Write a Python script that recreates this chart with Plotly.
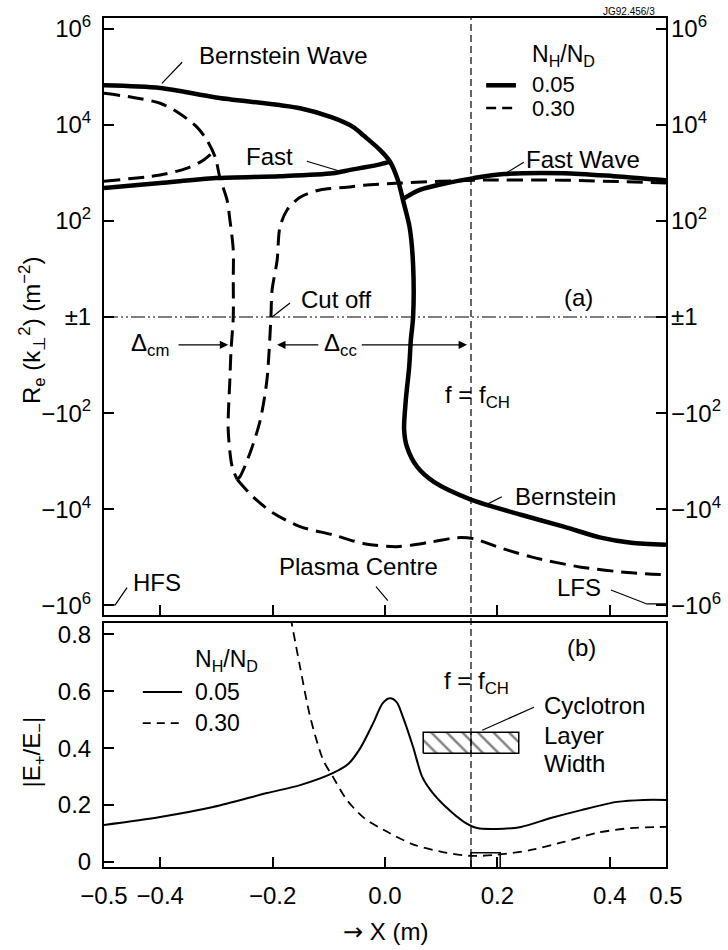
import numpy as np
import plotly.graph_objects as go

# ---------------- panel (a): Re(k_perp^2) in m^-2 versus X in m ----------------
# N_H/N_D = 0.05 : Bernstein branch (upper, turning down through the resonance)
bern05_x = [-0.5, -0.4, -0.301, -0.151, -0.093, -0.057, -0.037, -0.009, 0.009, 0.023,
            0.032, 0.044, 0.050, 0.050, 0.046, 0.043, 0.037, 0.034, 0.039, 0.057,
            0.087, 0.153, 0.242, 0.318, 0.384, 0.438, 0.5]
bern05_v = [6.6e4, 5.8e4, 3.7e4, 2.2e4, 1.4e4, 9.0e3, 5.8e3, 3.0e3, 1.7e3, 700,
            270, 71, 12, 1, -3, -11, -54, -220, -500, -1.3e3,
            -2.7e3, -6.3e3, -1.3e4, -2.3e4, -3.9e4, -5.0e4, -5.5e4]
# N_H/N_D = 0.05 : fast wave, high-field side
fast05_l_x = [-0.5, -0.4, -0.301, -0.187, -0.093, -0.062, -0.036, -0.009, 0.009]
fast05_l_v = [480, 610, 775, 850, 980, 1.15e3, 1.3e3, 1.5e3, 1.7e3]
# N_H/N_D = 0.05 : fast wave, low-field side
fast05_r_x = [0.033, 0.062, 0.110, 0.158, 0.212, 0.318, 0.407, 0.5]
fast05_r_v = [290, 440, 610, 775, 940, 980, 850, 700]

# N_H/N_D = 0.30 : upper branch down to the confluence
bern30_x = [-0.5, -0.448, -0.4, -0.365, -0.335, -0.317, -0.302, -0.294, -0.281, -0.276,
            -0.270, -0.270, -0.270, -0.274, -0.276, -0.279, -0.272, -0.263]
bern30_v = [4.5e4, 3.7e4, 2.8e4, 1.7e4, 9.0e3, 4.8e3, 2.1e3, 810, 270, 105,
            25, 6, 1, -5, -20, -220, -1.3e3, -2.4e3]
# N_H/N_D = 0.30 : fast wave, high-field side
fast30_l_x = [-0.5, -0.4, -0.352, -0.324, -0.306]
fast30_l_v = [670, 900, 1.25e3, 1.8e3, 2.7e3]
# N_H/N_D = 0.30 : from the confluence up through the cut-off to the fast wave
cut30_x = [-0.263, -0.258, -0.240, -0.222, -0.210, -0.203, -0.201, -0.192, -0.187, -0.174,
           -0.151, -0.116, -0.068, -0.037, 0.027, 0.158, 0.318, 0.5]
cut30_v = [-2.4e3, -2.1e3, -670, -140, -20, -1, 3.6, 15, 74, 170,
           310, 440, 500, 550, 610, 700, 700, 610]
# N_H/N_D = 0.30 : from the confluence towards the low-field side
low30_x = [-0.263, -0.235, -0.199, -0.151, -0.093, -0.037, 0.021, 0.082, 0.128, 0.158,
           0.199, 0.260, 0.349, 0.438, 0.5]
low30_v = [-2.4e3, -5.5e3, -1.2e4, -2.3e4, -3.4e4, -5.2e4, -6.0e4, -4.8e4, -3.9e4, -4.1e4,
           -6.0e4, -9.8e4, -1.6e5, -2.1e5, -2.3e5]

# ---------------- panel (b): |E+/E-| ----------------
pol05_x = [-0.5, -0.4, -0.306, -0.21, -0.151, -0.093, -0.065, -0.044, -0.021, -0.004,
           0.009, 0.021, 0.032, 0.050, 0.066, 0.082, 0.110, 0.141, 0.164, 0.199,
           0.242, 0.295, 0.349, 0.413, 0.461, 0.5]
pol05_v = [0.130, 0.158, 0.193, 0.242, 0.270, 0.312, 0.345, 0.400, 0.488, 0.558,
           0.575, 0.561, 0.509, 0.404, 0.300, 0.250, 0.190, 0.140, 0.119, 0.116,
           0.123, 0.154, 0.182, 0.211, 0.218, 0.218]
pol30_x = [-0.168, -0.151, -0.133, -0.110, -0.093, -0.068, -0.037, -0.002, 0.052, 0.110,
           0.153, 0.199, 0.260, 0.318, 0.377, 0.438, 0.5]
pol30_v = [0.86, 0.684, 0.509, 0.358, 0.300, 0.218, 0.154, 0.112, 0.060, 0.032,
           0.021, 0.025, 0.042, 0.070, 0.102, 0.119, 0.123]

# cyclotron resonance position and layer width
x_res = 0.153
layer_x = [0.068, 0.238]
layer_v = [0.382, 0.456]

# axis ticks
x_tickvals = [-0.5, -0.4, -0.2, 0.0, 0.2, 0.4, 0.5]
x_ticktext = ["\u22120.5", "\u22120.4", "\u22120.2", "0.0", "0.2", "0.4", "0.5"]
ya_tickvals = [6, 4, 2, 0, -2, -4, -6]
ya_ticktext = ["10<sup>6</sup>", "10<sup>4</sup>", "10<sup>2</sup>", "\u00b11",
               "\u221210<sup>2</sup>", "\u221210<sup>4</sup>", "\u221210<sup>6</sup>"]
yb_tickvals = [0, 0.2, 0.4, 0.6, 0.8]
yb_ticktext = ["0", "0.2", "0.4", "0.6", "0.8"]


def slog(v):
    """Signed decade scale: +-1 maps to 0, +-10^n maps to +-n."""
    v = np.asarray(v, dtype=float)
    return np.sign(v) * np.log10(np.maximum(np.abs(v), 1.0))


FONT = "Liberation Sans, Arial, Helvetica, sans-serif"
BLACK = "black"
thick = dict(color=BLACK, width=4.5, shape="spline", smoothing=0.8)
dashA = dict(color=BLACK, width=3, dash="16px,8px", shape="spline", smoothing=0.8)

fig = go.Figure()


def add(x, y, line, xa="x", ya="y"):
    fig.add_trace(go.Scatter(x=x, y=y, mode="lines", line=line, xaxis=xa, yaxis=ya,
                             showlegend=False, hoverinfo="skip"))


# panel (a)
add(bern05_x, slog(bern05_v), thick)
add(fast05_l_x, slog(fast05_l_v), thick)
add(fast05_r_x, slog(fast05_r_v), thick)
add(bern30_x, slog(bern30_v), dashA)
add(fast30_l_x, slog(fast30_l_v), dashA)
add(cut30_x, slog(cut30_v), dashA)
add(low30_x, slog(low30_v), dashA)
# the right-hand scale of panel (a) needs a trace of its own to be drawn
fig.add_trace(go.Scatter(x=[0.0], y=[0.0], mode="markers", marker=dict(opacity=0),
                         xaxis="x", yaxis="y3", showlegend=False, hoverinfo="skip"))

# panel (b)
add(pol05_x, pol05_v, dict(color=BLACK, width=2, shape="spline", smoothing=0.8), "x2", "y2")
add(pol30_x, pol30_v, dict(color=BLACK, width=1.8, dash="9px,6px", shape="spline",
                           smoothing=0.8), "x2", "y2")

# hatched cyclotron layer
fig.add_trace(go.Scatter(
    x=[layer_x[0], layer_x[1], layer_x[1], layer_x[0], layer_x[0]],
    y=[layer_v[0], layer_v[0], layer_v[1], layer_v[1], layer_v[0]],
    mode="lines", fill="toself", line=dict(color=BLACK, width=1.5),
    fillcolor="white",
    fillpattern=dict(shape="\\", fgcolor=BLACK, bgcolor="white", size=11, solidity=0.22),
    xaxis="x2", yaxis="y2", showlegend=False, hoverinfo="skip"))

shapes = []


def seg(x0, y0, x1, y1, xr="x", yr="y", width=1.2, dash="solid"):
    shapes.append(dict(type="line", x0=x0, y0=y0, x1=x1, y1=y1, xref=xr, yref=yr,
                       line=dict(color=BLACK, width=width, dash=dash)))


# resonance line through both panels
shapes.append(dict(type="line", x0=x_res, x1=x_res, y0=0, y1=1, xref="x", yref="paper",
                   line=dict(color=BLACK, width=1.2, dash="7px,4px")))
# divider inside the layer box
seg(x_res, layer_v[0], x_res, layer_v[1], "x2", "y2", 1.2)
# +-1 reference line
seg(-0.5, 0, 0.5, 0, width=1.2, dash="14px,3px,2px,3px,2px,3px")

# leader lines, panel (a)
seg(-0.361, 5.30, -0.397, 4.86)              # Bernstein Wave
seg(-0.139, 3.24, -0.071, 3.00)              # Fast
seg(0.247, 3.22, 0.212, 2.97)                # Fast Wave
seg(-0.169, 0.29, -0.201, 0.0)               # Cut off
seg(0.208, -3.74, 0.176, -3.93)              # Bernstein
seg(-0.016, -5.61, 0.005, -5.90)             # Plasma Centre
shapes.append(dict(type="path", xref="x", yref="y",
                   path="M -0.459,-5.63 L -0.480,-5.99 L -0.5,-5.99",
                   line=dict(color=BLACK, width=1.2)))   # HFS
shapes.append(dict(type="path", xref="x", yref="y",
                   path="M 0.402,-5.68 L 0.466,-5.97 L 0.5,-5.97",
                   line=dict(color=BLACK, width=1.2)))   # LFS
# panel (a) key samples
seg(0.180, 4.82, 0.233, 4.82, width=4.5)
seg(0.180, 4.35, 0.233, 4.35, width=2.5, dash="10px,6px")

# panel (b) leader + key samples
seg(0.265, 0.544, 0.173, 0.463, "x2", "y2")
seg(-0.431, 0.597, -0.361, 0.597, "x2", "y2", width=2)
seg(-0.431, 0.488, -0.361, 0.488, "x2", "y2", width=1.8, dash="8px,6px")
# bracket at the minimum of the 0.30 curve
shapes.append(dict(type="path", xref="x2", yref="y2",
                   path="M 0.153,-0.018 L 0.153,0.032 L 0.205,0.032 L 0.205,-0.018",
                   line=dict(color=BLACK, width=1.5)))

ann = []


def text(x, y, s, xr="x", yr="y", anchor="center", size=24, angle=0):
    ann.append(dict(x=x, y=y, xref=xr, yref=yr, text=s, showarrow=False,
                    xanchor=anchor, yanchor="middle", textangle=angle,
                    font=dict(family=FONT, size=size, color=BLACK)))


def arrow(x_head, x_tail, y):
    ann.append(dict(x=x_head, y=y, ax=x_tail, ay=y, xref="x", yref="y", axref="x",
                    ayref="y", text="", showarrow=True, arrowhead=2, arrowsize=1.4,
                    arrowwidth=1.2, arrowcolor=BLACK))


text(-0.180, 5.45, "Bernstein Wave")
text(-0.205, 3.33, "Fast")
text(0.352, 3.28, "Fast Wave")
text(0.258, 5.45, "N<sub>H</sub>/N<sub>D</sub>", anchor="left", size=23)
text(0.258, 4.84, "0.05", anchor="left", size=22)
text(0.258, 4.33, "0.30", anchor="left", size=22)
text(0.345, 0.40, "(a)")
text(-0.153, 0.37, "Cut off", anchor="left")
text(-0.418, -0.58, "\u0394<sub>cm</sub>")
text(-0.080, -0.58, "\u0394<sub>cc</sub>")
arrow(-0.279, -0.370, -0.58)
arrow(-0.192, -0.116, -0.58)
arrow(0.146, -0.044, -0.58)
text(0.165, -1.66, "f = f<sub>CH</sub>")
text(0.322, -3.74, "Bernstein")
text(-0.048, -5.20, "Plasma Centre")
text(-0.406, -5.53, "HFS")
text(0.345, -5.63, "LFS")
text(0.934, 1.008, "JG92.456/3", "paper", "paper", size=10)

text(0.350, 0.754, "(b)", "x2", "y2")
text(0.162, 0.632, "f = f<sub>CH</sub>", "x2", "y2")
text(0.279, 0.551, "Cyclotron", "x2", "y2", anchor="left")
text(0.279, 0.446, "Layer", "x2", "y2", anchor="left")
text(0.279, 0.347, "Width", "x2", "y2", anchor="left")
text(-0.342, 0.708, "N<sub>H</sub>/N<sub>D</sub>", "x2", "y2", anchor="left", size=23)
text(-0.342, 0.597, "0.05", "x2", "y2", anchor="left", size=23)
text(-0.342, 0.488, "0.30", "x2", "y2", anchor="left", size=23)

# axis titles
text(-0.128, 0.6325, "R<sub>e</sub> (k<sub>\u22a5</sub><sup>2</sup>) (m<sup>\u22122</sup>)",
     "paper", "paper", angle=-90)
text(-0.126, 0.135, "|E<sub>+</sub>/E<sub>\u2212</sub>|", "paper", "paper", angle=-90)
text(0.5, -0.0766, "<span style=\"font-family:DejaVu Sans\">\u2192</span> X (m)",
     "paper", "paper")

axis_common = dict(showline=True, linecolor=BLACK, linewidth=2, mirror=True,
                   ticks="inside", ticklen=10, tickwidth=1.5, tickcolor=BLACK,
                   showgrid=False, zeroline=False, automargin=False,
                   tickfont=dict(family=FONT, size=24, color=BLACK))

fig.update_layout(
    width=728, height=950,
    margin=dict(l=104, r=62, t=18, b=83, autoexpand=False),
    paper_bgcolor="white", plot_bgcolor="white",
    font=dict(family=FONT, size=24, color=BLACK),
    showlegend=False,
    xaxis=dict(domain=[0, 1], anchor="y", range=[-0.5, 0.5],
               tickvals=[-0.4, -0.2, 0.0, 0.2, 0.4], showticklabels=False, **axis_common),
    yaxis=dict(domain=[0.2968, 1], anchor="x", range=[-6.2, 6.22],
               tickvals=ya_tickvals, ticktext=ya_ticktext, ticklabelstandoff=6,
               **axis_common),
    yaxis3=dict(overlaying="y", side="right", anchor="x", range=[-6.2, 6.22],
                tickvals=ya_tickvals, ticktext=ya_ticktext, ticklabelstandoff=4,
                ticks="inside", ticklen=10, tickwidth=1.5, tickcolor=BLACK,
                showline=False, showgrid=False, zeroline=False, automargin=False,
                tickfont=dict(family=FONT, size=24, color=BLACK)),
    xaxis2=dict(domain=[0, 1], anchor="y2", range=[-0.5, 0.5],
                tickvals=x_tickvals, ticktext=x_ticktext, ticklabelstandoff=6,
                **axis_common),
    yaxis2=dict(domain=[0, 0.2874], anchor="x2", range=[-0.018, 0.84],
                tickvals=yb_tickvals, ticktext=yb_ticktext, ticklabelstandoff=6,
                **axis_common),
    shapes=shapes,
    annotations=ann,
)

fig.write_html("out.html")
